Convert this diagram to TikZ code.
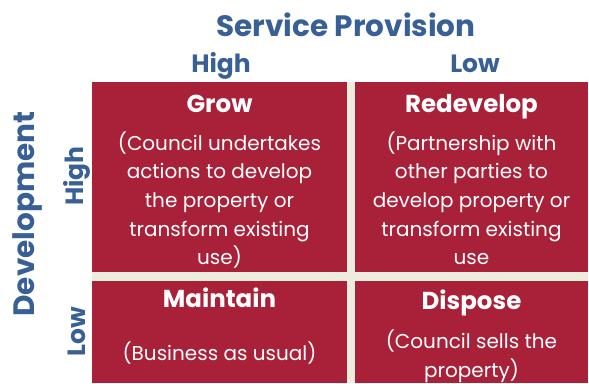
\documentclass[tikz,border=0pt]{standalone}
\usepackage{fontspec}
\setmainfont{Poppins}
\definecolor{cellred}{HTML}{A82139}
\definecolor{axisblue}{HTML}{386096}
\definecolor{gapcream}{HTML}{ECECDF}
\tikzset{
  cell/.style={fill=cellred, draw=none, inner sep=0pt},
  celltitle/.style={text=white, font=\fontsize{24.5}{28}\selectfont\bfseries, anchor=base},
  % base of a multi-line node sits on its last line
  celltext/.style={text=white, font=\fontsize{20}{28.7}\selectfont, align=center, anchor=base, inner sep=0pt},
  axistitle/.style={text=axisblue, font=\fontsize{29.5}{32}\selectfont\bfseries},
  axislabel/.style={text=axisblue, font=\fontsize{25}{28}\selectfont\bfseries},
}
\begin{document}
\begin{tikzpicture}[x=1pt,y=1pt]
  \useasboundingbox (0,0) rectangle (589,383);
  % cream shows through between the four cells
  \fill[gapcream] (92,0) rectangle (588,301);
  \node[cell, minimum width=255pt, minimum height=190pt] (grow) at (219.5,206) {};
  \node[cell, minimum width=233pt, minimum height=190pt] (redevelop) at (471.5,206) {};
  \node[cell, minimum width=255pt, minimum height=102pt] (maintain) at (219.5,51) {};
  \node[cell, minimum width=233pt, minimum height=102pt] (dispose) at (471.5,51) {};

  \node[celltitle] (growtitle) at (219.5,270) {Grow};
  \node[celltext] (growtext) at (219.5,118) {(Council undertakes\\actions to develop\\the property or\\transform existing\\use)};
  \node[celltitle] (redeveloptitle) at (471.5,270) {Redevelop};
  \node[celltext] (redeveloptext) at (471.5,118) {(Partnership with\\other parties to\\develop property or\\transform existing\\use};
  \node[celltitle] (maintaintitle) at (219.5,75) {Maintain};
  \node[celltext] (maintaintext) at (219.5,23) {(Business as usual)};
  \node[celltitle] (disposetitle) at (471.5,73) {Dispose};
  \node[celltext] (disposetext) at (471.5,6) {(Council sells the\\property)};

  % axis headings
  \node[axistitle, anchor=base] (service) at (346,346) {Service Provision};
  \node[axislabel, anchor=base] (colhigh) at (221,310) {High};
  \node[axislabel, anchor=base] (collow) at (475,310) {Low};
  \node[axistitle, rotate=90] (development) at (28,169) {Development};
  \node[axislabel, rotate=90] (rowhigh) at (77,207) {High};
  \node[axislabel, rotate=90] (rowlow) at (77,51) {Low};
\end{tikzpicture}
\end{document}
